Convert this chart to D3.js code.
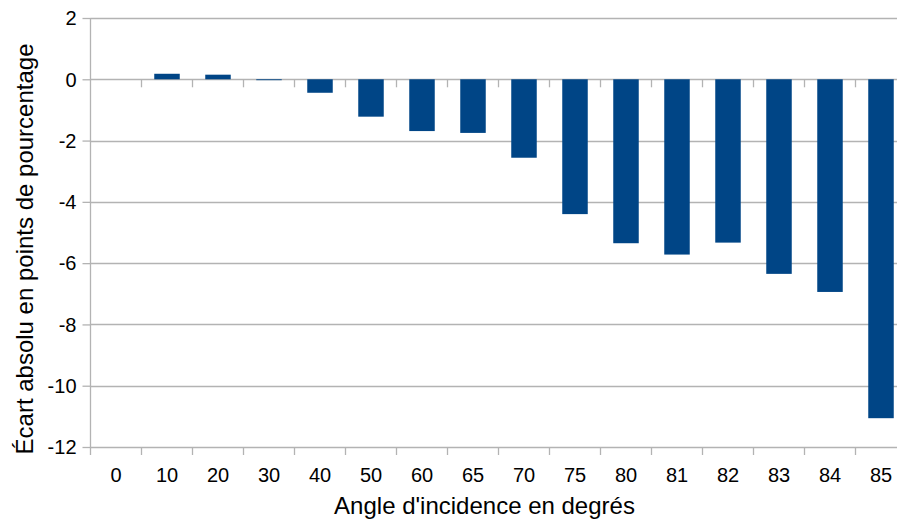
<!DOCTYPE html>
<html>
<head>
<meta charset="utf-8">
<script src="https://cdn.jsdelivr.net/npm/d3@7"></script>
<style>
  html, body { margin: 0; padding: 0; background: #fff; }
  svg { display: block; }
  text { font-family: "Liberation Sans", Arial, sans-serif; fill: #000; }
</style>
</head>
<body>
<svg id="chart" width="897" height="523"></svg>
<script>
const categories = ["0", "10", "20", "30", "40", "50", "60", "65", "70", "75", "80", "81", "82", "83", "84", "85"];
const values = [0, 0.18, 0.15, -0.03, -0.44, -1.22, -1.69, -1.75, -2.56, -4.40, -5.35, -5.72, -5.33, -6.35, -6.94, -11.06];
const yTickValues = [2, 0, -2, -4, -6, -8, -10, -12];
const xTitle = "Angle d'incidence en degrés";
const yTitle = "Écart absolu en points de pourcentage";

(function () {
const svg = d3.select("#chart");
const pLeft = 90.5, pRight = 906.5, pTop = 18, pBottom = 447;
const gridColor = "#b3b3b3";

const x = d3.scaleBand().domain(categories).range([pLeft, pRight]).paddingInner(0.5).paddingOuter(0.25);
const y = d3.scaleLinear().domain([-12, 2]).range([pBottom, pTop]);

// gridlines
svg.append("g").selectAll("line").data(yTickValues).join("line")
  .attr("x1", pLeft).attr("x2", pRight)
  .attr("y1", d => Math.round(y(d)) + 0.5).attr("y2", d => Math.round(y(d)) + 0.5)
  .attr("stroke", gridColor).attr("stroke-width", 1.3);

// y axis
const yAxis = svg.append("g").attr("transform", `translate(${pLeft},0)`)
  .call(d3.axisLeft(y).tickValues(yTickValues).tickSize(8).tickPadding(6).tickFormat(d => String(d)));
yAxis.select(".domain").remove();
yAxis.selectAll(".tick line").attr("stroke", gridColor).attr("stroke-width", 1.3);
yAxis.selectAll(".tick text").style("font-size", "20px").attr("dy", "0.34em");
svg.append("line").attr("x1", pLeft).attr("x2", pLeft).attr("y1", pTop).attr("y2", pBottom + 8)
  .attr("stroke", gridColor).attr("stroke-width", 1.3);

// boundary ticks
const step = x.step();
const bounds = d3.range(1, categories.length + 1).map(i => pLeft + i * step);
svg.append("g").selectAll("line").data(bounds.slice(0, -1)).join("line")
  .attr("x1", d => d).attr("x2", d => d).attr("y1", y(0)).attr("y2", y(0) + 8)
  .attr("stroke", gridColor).attr("stroke-width", 1.3);
svg.append("g").selectAll("line").data(bounds).join("line")
  .attr("x1", d => d).attr("x2", d => d).attr("y1", pBottom).attr("y2", pBottom + 8)
  .attr("stroke", gridColor).attr("stroke-width", 1.3);

// bars
svg.append("g").selectAll("rect").data(categories).join("rect")
  .attr("x", d => x(d))
  .attr("width", x.bandwidth())
  .attr("y", (d, i) => y(Math.max(0, values[i])))
  .attr("height", (d, i) => Math.abs(y(values[i]) - y(0)))
  .attr("fill", "#004586");

// x axis labels
const xAxis = svg.append("g").attr("transform", `translate(0,${pBottom})`)
  .call(d3.axisBottom(x).tickSize(0).tickPadding(0));
xAxis.select(".domain").remove();
xAxis.selectAll(".tick text").attr("y", 35).attr("dy", 0).style("font-size", "20px");

// titles
svg.append("text").attr("x", (333 + 636) / 2).attr("y", 514)
  .attr("text-anchor", "middle").style("font-size", "24px").text(xTitle);
svg.append("text").attr("transform", `translate(33,249) rotate(-90)`)
  .attr("text-anchor", "middle").style("font-size", "24px").text(yTitle);
})();
</script>
</body>
</html>
